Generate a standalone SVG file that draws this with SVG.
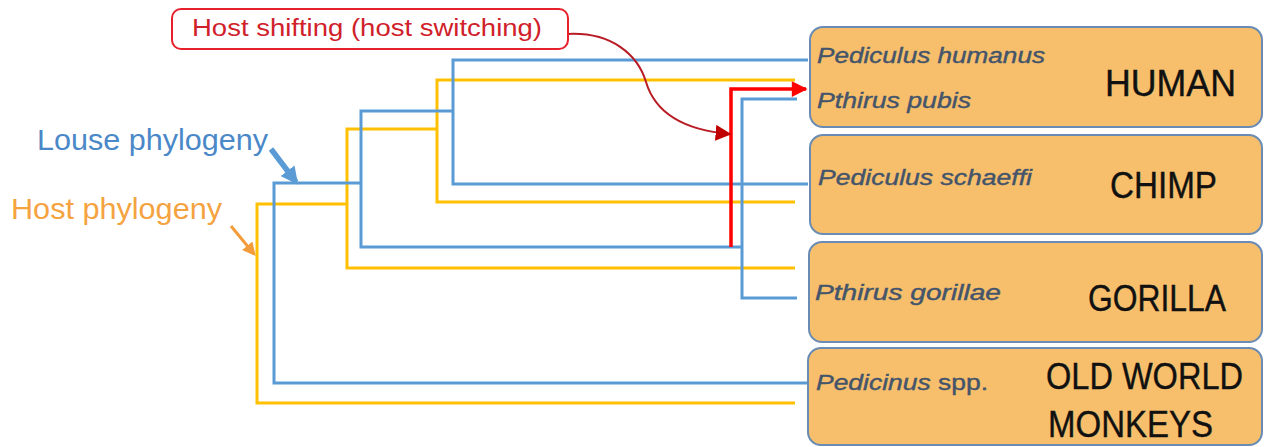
<svg xmlns="http://www.w3.org/2000/svg" width="1264" height="447" viewBox="0 0 1264 447">
  <style>
    .louse { fill: none; stroke: #5b9bd5; stroke-width: 3; stroke-linejoin: miter; }
    .host { fill: none; stroke: #ffc000; stroke-width: 3; stroke-linejoin: miter; }
    .box { fill: #f7bf6b; stroke: #6a8cb4; stroke-width: 2; }
    .sp { font-family: "Liberation Sans", Arial, sans-serif; font-style: italic; font-size: 22px; fill: #44546a; stroke: #44546a; stroke-width: 0.4; }
    .sp-up { font-style: normal; }
    .hostname { font-family: "Liberation Sans", Arial, sans-serif; font-size: 36px; fill: #111111; stroke: #111111; stroke-width: 0.4; }
    .legend { font-family: "Liberation Sans", Arial, sans-serif; font-size: 29px; }
  </style>
  <defs>
    <marker id="redHead" viewBox="0 0 10 10" refX="9" refY="5" markerWidth="5" markerHeight="4.5" orient="auto" markerUnits="strokeWidth">
      <path d="M0,0 L10,5 L0,10 Z" fill="#ff0000"/>
    </marker>
    <marker id="darkRedHead" viewBox="0 0 10 10" refX="9" refY="5" markerWidth="8" markerHeight="8" orient="auto" markerUnits="strokeWidth">
      <path d="M0,0 L10,5 L0,10 Z" fill="#c00000"/>
    </marker>
    <marker id="blueHead" viewBox="0 0 10 10" refX="8" refY="5" markerWidth="3.2" markerHeight="3.2" orient="auto" markerUnits="strokeWidth">
      <path d="M0,0 L10,5 L0,10 Z" fill="#5b9bd5"/>
    </marker>
    <marker id="orangeHead" viewBox="0 0 10 10" refX="8" refY="5" markerWidth="4.5" markerHeight="4.5" orient="auto" markerUnits="strokeWidth">
      <path d="M0,0 L10,5 L0,10 Z" fill="#f39c3c"/>
    </marker>
  </defs>

  <rect width="1264" height="447" fill="#ffffff"/>

  <!-- tree branches -->
  <g id="connectors">
    <!-- host (primate) tree -->
    <path class="host" d="M795,80 H437 V202 H795"/>
    <path class="host" d="M437,129 H347 V268 H795"/>
    <path class="host" d="M347,204 H257 V403 H795"/>
    <!-- louse tree -->
    <path class="louse" d="M808,60 H453 V184 H808"/>
    <path class="louse" d="M453,111 H361 V247 H742"/>
    <path class="louse" d="M797,99 H742 V298 H797"/>
    <path class="louse" d="M361,183 H274 V383 H808"/>
    <!-- host switch -->
    <path d="M731,247 V89 H806" fill="none" stroke="#ff0000" stroke-width="3.5" marker-end="url(#redHead)"/>
    <path d="M568,34 C612,32 638,55 646,82 C655,112 682,130 730,134" fill="none" stroke="#b81c24" stroke-width="2" marker-end="url(#darkRedHead)"/>
    <!-- legend pointers -->
    <path d="M271,149 L296,182" stroke="#5b9bd5" stroke-width="5.5" fill="none" marker-end="url(#blueHead)"/>
    <path d="M231,226 L254,254" stroke="#f39c3c" stroke-width="3" fill="none" marker-end="url(#orangeHead)"/>
  </g>

  <g id="host-switch-label">
    <rect x="172" y="9" width="396" height="40" rx="9" fill="#ffffff" stroke="#e8202c" stroke-width="2"/>
    <text x="192" y="36" font-family="Liberation Sans, Arial, sans-serif" font-size="23" fill="#d0202a" textLength="350" lengthAdjust="spacingAndGlyphs">Host shifting (host switching)</text>
  </g>

  <g id="louse-legend">
    <text class="legend" x="37" y="150" fill="#4a88c8" textLength="231" lengthAdjust="spacingAndGlyphs">Louse phylogeny</text>
  </g>
  <g id="host-legend">
    <text class="legend" x="11" y="219" fill="#f4a340" textLength="211" lengthAdjust="spacingAndGlyphs">Host phylogeny</text>
  </g>

  <g id="human">
    <rect class="box" x="810" y="27" width="452" height="100" rx="13"/>
    <text class="sp" x="817" y="63" textLength="228" lengthAdjust="spacingAndGlyphs">Pediculus humanus</text>
    <text class="sp" x="817" y="108" textLength="154" lengthAdjust="spacingAndGlyphs">Pthirus pubis</text>
    <text class="hostname" x="1105" y="96" textLength="131" lengthAdjust="spacingAndGlyphs">HUMAN</text>
  </g>

  <g id="chimp">
    <rect class="box" x="810" y="135" width="452" height="99" rx="13"/>
    <text class="sp" x="818" y="185" textLength="214" lengthAdjust="spacingAndGlyphs">Pediculus schaeffi</text>
    <text class="hostname" x="1110" y="198" textLength="107" lengthAdjust="spacingAndGlyphs">CHIMP</text>
  </g>

  <g id="gorilla">
    <rect class="box" x="809" y="242" width="453" height="100" rx="13"/>
    <text class="sp" x="815" y="300" textLength="186" lengthAdjust="spacingAndGlyphs">Pthirus gorillae</text>
    <text class="hostname" x="1088" y="311" textLength="138" lengthAdjust="spacingAndGlyphs">GORILLA</text>
  </g>

  <g id="old-world-monkeys">
    <rect class="box" x="808" y="348" width="454" height="97" rx="13"/>
    <text class="sp" x="816" y="390" textLength="172" lengthAdjust="spacingAndGlyphs">Pedicinus<tspan class="sp-up"> spp.</tspan></text>
    <text class="hostname" x="1046" y="389" textLength="197" lengthAdjust="spacingAndGlyphs">OLD WORLD</text>
    <text class="hostname" x="1048" y="437" textLength="165" lengthAdjust="spacingAndGlyphs">MONKEYS</text>
  </g>
</svg>
